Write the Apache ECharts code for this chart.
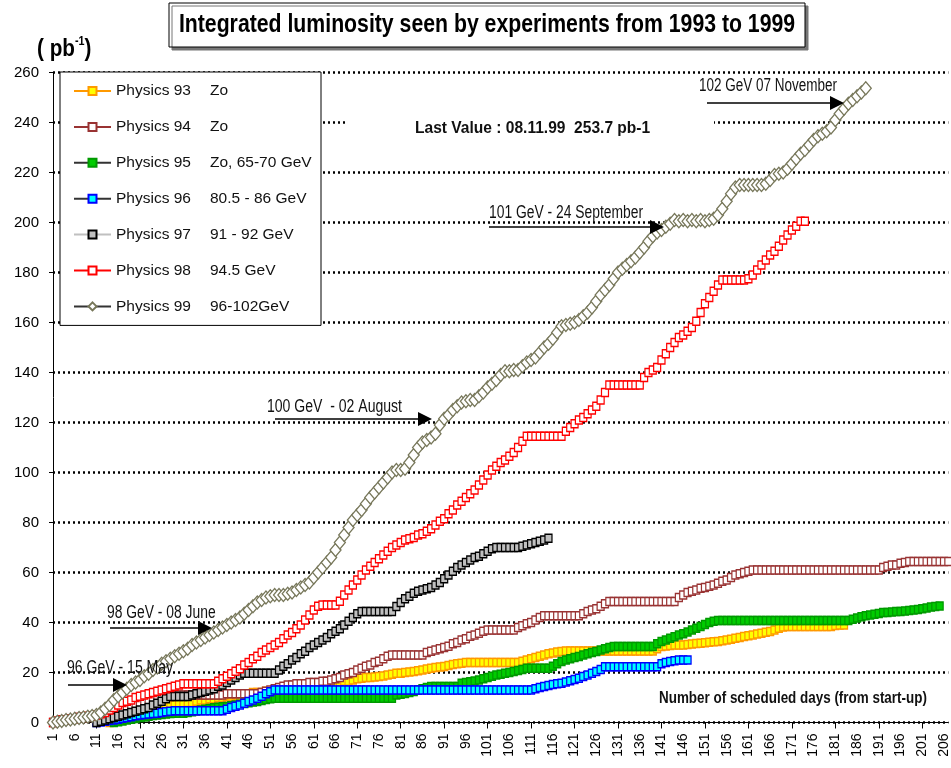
<!DOCTYPE html>
<html><head><meta charset="utf-8">
<script src="https://cdn.jsdelivr.net/npm/echarts/dist/echarts.min.js"></script>
<style>html,body{margin:0;padding:0;background:#fff}#c{width:951px;height:768px}</style>
</head><body><div id="c"></div>
<script>
// ---------- DATA ----------
const days = [];
for (let d = 1; d <= 207; d++) days.push(String(d));
const yTicks = [0,20,40,60,80,100,120,140,160,180,200,220,240,260];

const seriesNames = ['Physics 93','Physics 94','Physics 95','Physics 96','Physics 97','Physics 98','Physics 99'];
const energies = ['Zo','Zo','Zo, 65-70 GeV','80.5 - 86 GeV','91 - 92 GeV','94.5 GeV','96-102GeV'];
const startDays = [14, 1, 15, 11, 11, 1, 1];

const phys93 = [
 0,0.5,1,1.5,2,2.5,3,
 3.5,4,4.5,5,5.5,6,6.5,7,7,7.5,
 7.5,8,8,8.5,9,9,9.5,9.5,10,10,
 10.5,10.5,11,11,11.5,11.5,12,12,12,12.5,
 12.5,13,13,13,13.5,13.5,13.5,14,14,14,
 14.5,14.5,15,15,15.5,15.5,16,16.5,16.5,17,
 17.5,17.7,18,18,18.2,18.4,18.6,19,19.3,19.7,
 19.7,20,20.2,20.4,20.7,21,21.4,21.7,22,22.2,
 22.4,22.8,23.2,23.5,23.7,24,24,24,24,24,
 24,24,24,24,24,24,24,24,24.5,25,
 25.5,26,26.5,27,27.5,27.8,28.2,28.4,28.6,28.6,
 28.6,28.6,28.6,28.6,28.6,28.6,28.6,28.6,28.6,28.6,
 28.6,28.6,28.6,28.6,28.6,28.6,28.6,28.6,28.6,29.5,
 30.4,30.6,30.8,31,31,31,31.2,31.4,31.6,31.7,
 31.9,32.1,32.3,32.4,32.7,33,33.3,33.7,34,34.4,
 34.7,35,35.4,35.7,36.1,36.4,37,37.7,38.2,38.4,
 38.4,38.4,38.4,38.4,38.4,38.4,38.4,38.4,38.4,38.4,
 38.8,39,39
];
const phys94 = [
 0,0.5,1,1,1.5,1.5,2,2,2,2.5,
 2.5,3,3.5,4,4.5,5,5.5,6,6.5,7,
 7.5,8,8.5,9,9.5,10,10.5,11,11,11,
 11,11,11,11,11,11,11,11,11,11,
 11.5,11.5,11.5,11.5,11.5,11.5,11.5,11.5,12,12.5,
 13,13.5,14,14.5,15,15,15.5,15.5,15.5,16,
 16,16,16.5,16.5,17,17.5,18,19,19.5,20,
 21,21.7,22.5,23,24,24.5,25.5,26.5,27,27,
 27,27,27,27,27,27,28,28.5,29,29.5,
 30,30.5,31.5,32,33,33.5,34.5,35,35.7,36.5,
 37,37,37,37,37,37,37,38,38.7,39.5,
 40,41,42,42.7,42.7,42.7,42.7,42.7,42.7,42.7,
 42.7,42.7,43.5,44.4,45,45.5,46.5,47.5,48.4,48.4,
 48.4,48.4,48.4,48.4,48.4,48.4,48.4,48.4,48.4,48.4,
 48.4,48.4,48.4,48.4,50,51,52,52.5,53,53.7,
 54,54.5,55,55.7,56.5,57,58,59,59.5,60,
 60.5,61,61,61,61,61,61,61,61,61,
 61,61,61,61,61,61,61,61,61,61,
 61,61,61,61,61,61,61,61,61,61,
 61,62,62.5,63,63,63.7,64,64.4,64.4,64.4,
 64.4,64.4,64.4,64.4,64.4,64.4,64.4
];
const phys95 = [
 0,0.3,0.6,1,1.3,1.6,
 2,2.2,2.5,2.8,3,3.2,3.4,3.6,3.7,3.7,
 3.7,4,4.3,4.6,5,5.3,5.6,5.9,6.1,6.3,
 6.4,6.7,7,7.3,7.6,7.9,8.2,8.4,8.8,9.2,
 9.5,9.7,9.7,9.7,9.7,9.7,9.7,9.7,9.7,9.7,
 9.7,9.7,9.7,9.7,9.7,9.7,9.7,9.7,9.7,9.7,
 9.7,9.7,9.7,9.7,9.7,9.7,9.7,9.7,9.7,11,
 11.3,11.6,12,12.4,13,13.5,14,14.4,14.4,14.4,
 14.4,14.4,14.4,14.4,15.7,16,16.3,16.6,17,17.5,
 18,18.5,19,19.3,19.7,20,20.4,20.8,21.2,21.7,
 21.7,21.7,21.7,21.7,21.7,22.5,23.5,24.4,25,25.5,
 26,26.4,27,27.5,28,28.4,29,29.5,30,30.4,
 30.4,30.4,30.4,30.4,30.4,30.4,30.4,30.4,30.4,31.5,
 32.4,33,33.7,34.3,35,35.5,36.2,37,37.7,38.4,
 39.2,40,40.5,40.8,40.8,40.8,40.8,40.8,40.8,40.8,
 40.8,40.8,40.8,40.8,40.8,40.8,40.8,40.8,40.8,40.8,
 40.8,40.8,40.8,40.8,40.8,40.8,40.8,40.8,40.8,40.8,
 40.8,40.8,40.8,40.8,41.3,41.8,42.3,42.7,43,43.3,
 43.6,44,44,44.2,44.4,44.4,44.6,44.8,45,45.2,
 45.5,45.8,46.2,46.4,46.6
];
const phys96 = [
 0,0.2,0.5,0.8,1,1.3,1.7,2,2.3,2.7,
 3,3.2,3.4,3.6,3.7,4,4.3,4.5,4.7,4.7,
 4.7,4.7,4.7,4.7,4.7,4.7,4.7,4.7,4.7,4.7,
 5.3,6,6.5,7,7.7,8.4,9,9.7,10.5,11.5,
 12.3,13,13,13,13,13,13,13,13,13,
 13,13,13,13,13,13,13,13,13,13,
 13,13,13,13,13,13,13,13,13,13,
 13,13,13,13,13,13,13,13,13,13,
 13,13,13,13,13,13,13,13,13,13,
 13,13,13,13,13,13,13,13,13,13,
 13,13.5,14,14.4,14.8,15.2,15.5,15.7,16.2,16.7,
 17.2,17.7,18.4,19,19.7,20.4,21.2,22.3,22.3,22.3,
 22.3,22.3,22.3,22.3,22.3,22.3,22.3,22.3,22.3,22.3,
 23.5,24,24.4,24.7,25,25,25
];
const phys97 = [
 0,0.5,1,1.5,2,2.5,3,3.5,4,4.5,
 5,5.5,6,7,7.7,8.5,9.5,10.4,10.4,10.4,
 10.4,10.4,11,11.5,12,12.5,13,13.5,14.5,15,
 16,17,18,19,19.7,19.7,19.7,19.7,19.7,19.7,
 19.7,19.7,21,22.5,23.5,25,26,27.5,28.5,30,
 31,32,33,34,35.5,36.5,37.5,39,40.5,42,
 43.5,44.4,44.4,44.4,44.4,44.4,44.4,44.4,44.4,46.4,
 48,49.5,50.5,51.7,52.5,53,53.5,54,55,56,
 57.5,59,60.5,62,63,64,65,66,66.5,67.5,
 68.5,69.5,70,70,70,70,70,70,70.5,71,
 71.5,72,72.5,73,73.7
];
const phys98 = [
 0,0.5,1,1,1.5,1.5,2,2,2.5,2.5,
 3,3.5,4,5,6,7,8,8.5,9,10,
 10.5,11,11.5,12,12.5,13,13.5,14,14.5,15,
 15.5,15.5,15.5,15.5,15.5,15.5,15.5,15.5,16.5,17.5,
 18.5,19.5,20.5,21.5,23,24,25.5,26.5,28,29,
 30,31,32,33.5,35,36,37.5,39,41,43,
 45,46.5,47,47,47,47,48.5,51,53,55,
 57,59,61,62.5,64,65.5,67,68.5,70,71,
 72,73,73.5,74,75,75.5,76.5,77.5,79,80.5,
 81.5,83.5,85,87,88.5,90,91.5,93,95,97,
 99,101,102.5,104,105,106.5,108,110,112.5,114.5,
 114.5,114.5,114.5,114.5,114.5,114.5,114.5,114.5,116.5,118,
 119.5,121,122,123.5,125,126.5,129,132,135,135,
 135,135,135,135,135,135,138,140,141,142,
 145,147.5,150,152,154,155,156.5,158,160.5,164,
 167.5,170,172.5,175,177,177,177,177,177,177,
 177.5,179,181,183,185,187,188.5,190.5,193,195,
 197,198.5,200.5,200.5
];
const phys99 = [
 0,0.3,0.6,1,1.2,1.5,1.8,2,2.3,2.6,
 3,4,5.5,7,9,10.5,12,13.5,15,16,
 17,18.5,19.5,21,22,23.5,24.5,25.5,26.5,27.5,
 28.5,29.5,31,32,33,34,35,36,37,38,
 39,40,41,42,43.5,45,46.5,48,49,50,
 50.5,51,51,51,51.5,52,53,54,55,56,
 58,60,62,64,66,69,72,75,78,81,
 83,85,87.5,90,92,94,96,98,100,101,
 101,101.5,104,107,110,112,113,114,115.5,119,
 121.5,123,125,126.5,128,128.5,129,129,130.5,132,
 134,135.5,137,139,140.5,140.5,141,141,142.5,144,
 145,146,148,150,151.5,153.5,156,158.5,159,159.5,
 160,161,162.5,164,166,168.5,171,173,175,177.5,
 180,181.5,183,184.5,186,188,190,192.5,194.5,196,
 197,198.3,199.5,201,200.5,201,200.5,201,200.5,201,
 200.5,201,201.5,203,205.5,208.5,211.5,214,215,215,
 215,215,215,215,215.5,217,219,219.5,220,221.5,
 223.5,225.5,227.5,229,231,233,234.5,235.5,236.5,238,
 241,243.5,245.5,247.5,249,250.5,252,253.7
];
const allValues = [phys93, phys94, phys95, phys96, phys97, phys98, phys99];

// ---------- STYLE ----------
const F = "'Liberation Sans',Arial,sans-serif";
const styles = [
  {sym:'rect', size:[7,8], fill:'#ffff00', border:'#ff9900', line:'#ff9900'},
  {sym:'rect', size:[7,8], fill:'#ffffff', border:'#993333', line:'#993333'},
  {sym:'rect', size:[7,8], fill:'#00cc00', border:'#009900', line:'#333333'},
  {sym:'rect', size:[7,8], fill:'#00ffff', border:'#0000ff', line:'#333333'},
  {sym:'rect', size:[7,8], fill:'#c0c0c0', border:'#000000', line:'#c0c0c0'},
  {sym:'rect', size:[7,8], fill:'#ffffff', border:'#ff0000', line:'#ff0000'},
  {sym:'diamond', size:[11,13], fill:'#ffffff', border:'#77775a', line:'#333333'}
];

function pad(start, vals) {
  const out = [];
  for (let i = 1; i < start; i++) out.push('-');
  return out.concat(vals);
}

const series = seriesNames.map((n, i) => ({
  name: n, type: 'line',
  data: pad(startDays[i], allValues[i]),
  symbol: styles[i].sym, symbolSize: styles[i].size,
  showAllSymbol: true,
  lineStyle: {color: styles[i].line, width: 1},
  itemStyle: {color: styles[i].fill, borderColor: styles[i].border, borderWidth: 1.3},
  emphasis: {disabled: true},
  animation: false
}));

const energyOf = {};
seriesNames.forEach((n, i) => energyOf[n] = energies[i]);

function arrow(x1, x2, y) {
  return [
    {type:'line', z:20, shape:{x1:x1, y1:y, x2:x2 - 12, y2:y}, style:{stroke:'#000', lineWidth:1.6}},
    {type:'polygon', z:20, shape:{points:[[x2-14, y-7],[x2, y],[x2-14, y+7]]}, style:{fill:'#000'}}
  ];
}
function label(x, y, text, size, bold, sx) {
  return {type:'text', z:20, x:x, y:y, scaleX:sx, scaleY:1,
    style:{text:text, fill:'#111', font:(bold?'bold ':'') + size + 'px ' + F, textVerticalAlign:'middle', textAlign:'left'}};
}

const graphics = [
  // title box
  {type:'rect', z:20, shape:{x:169, y:3, width:636, height:44}, style:{fill:'#fff', stroke:'#000', lineWidth:1, shadowColor:'#777', shadowOffsetX:3, shadowOffsetY:3, shadowBlur:0}},
  {type:'text', z:21, x:487, y:25, scaleX:0.817, scaleY:1, style:{text:'Integrated luminosity seen by experiments from 1993 to 1999', fill:'#000', font:'bold 26px ' + F, textAlign:'center', textVerticalAlign:'middle'}},
  // unit
  {type:'text', z:20, x:37, y:36, scaleX:0.9, scaleY:1, style:{text:'{a|( pb}{s|-1}{a|)}', rich:{a:{fontFamily:F, fontWeight:'bold', fontSize:23, fill:'#000', lineHeight:27}, s:{fontFamily:F, fontWeight:'bold', fontSize:12, fill:'#000', verticalAlign:'top', lineHeight:27, padding:[0,0,10,0]}}}},
  // cover of the 240 grid line behind the text box
  {type:'rect', z:5, shape:{x:346, y:112, width:368, height:22}, style:{fill:'#fff'}},
  label(699, 86, '102 GeV 07 November', 18, false, 0.75),
  label(415, 128, 'Last Value : 08.11.99  253.7 pb-1', 17, true, 0.915),
  label(489, 213, '101 GeV - 24 September', 18, false, 0.77),
  label(267, 407, '100 GeV  - 02 August', 18, false, 0.78),
  label(107, 613, '98 GeV - 08 June', 18, false, 0.77),
  label(67, 668, '96 GeV - 15 May', 18, false, 0.78),
  label(659, 698, 'Number of scheduled days (from start-up)', 17, true, 0.79)
].concat(arrow(707, 844, 103), arrow(489, 664, 227), arrow(275, 432, 419), arrow(110, 212, 628), arrow(68, 127, 685));

const chart = echarts.init(document.getElementById('c'), null, {renderer:'canvas'});
chart.setOption({
  animation: false,
  backgroundColor: '#fff',
  textStyle: {fontFamily: F},
  grid: {left: 53, right: 0, top: 72.5, bottom: 45.5, containLabel: false},
  xAxis: {
    type: 'category', data: days, boundaryGap: false,
    axisLine: {lineStyle: {color: '#000', width: 1}},
    axisTick: {interval: 9, length: 6, lineStyle: {color: '#000'}},
    axisLabel: {interval: 4, rotate: 90, fontSize: 14, fontFamily: F, color: '#000', margin: 11},
    splitLine: {show: false}
  },
  yAxis: {
    type: 'value', min: yTicks[0], max: yTicks[yTicks.length - 1], interval: 20,
    axisLine: {show: true, lineStyle: {color: '#000', width: 1}},
    axisTick: {show: true, length: 4, lineStyle: {color: '#000'}},
    axisLabel: {fontSize: 15, fontFamily: F, color: '#000', margin: 14},
    splitLine: {show: true, lineStyle: {color: '#000', width: 2.5, type: [2, 3]}}
  },
  legend: {
    orient: 'vertical', left: 60, top: 72,
    data: seriesNames,
    backgroundColor: '#fff', borderColor: '#000', borderWidth: 1,
    padding: [11, 9, 11, 13],
    itemWidth: 37, itemHeight: 10, itemGap: 19.9,
    selectedMode: false,
    formatter: n => '{a|' + n + '}{b|' + energyOf[n] + '}',
    textStyle: {
      fontFamily: F, fontSize: 15.5, color: '#111',
      rich: {a: {fontFamily: F, fontSize: 15.5, width: 94, lineHeight: 18, color:'#111'},
             b: {fontFamily: F, fontSize: 15.5, width: 102, lineHeight: 18, color:'#111'}}
    }
  },
  graphic: graphics,
  series: series
});
</script></body></html>
